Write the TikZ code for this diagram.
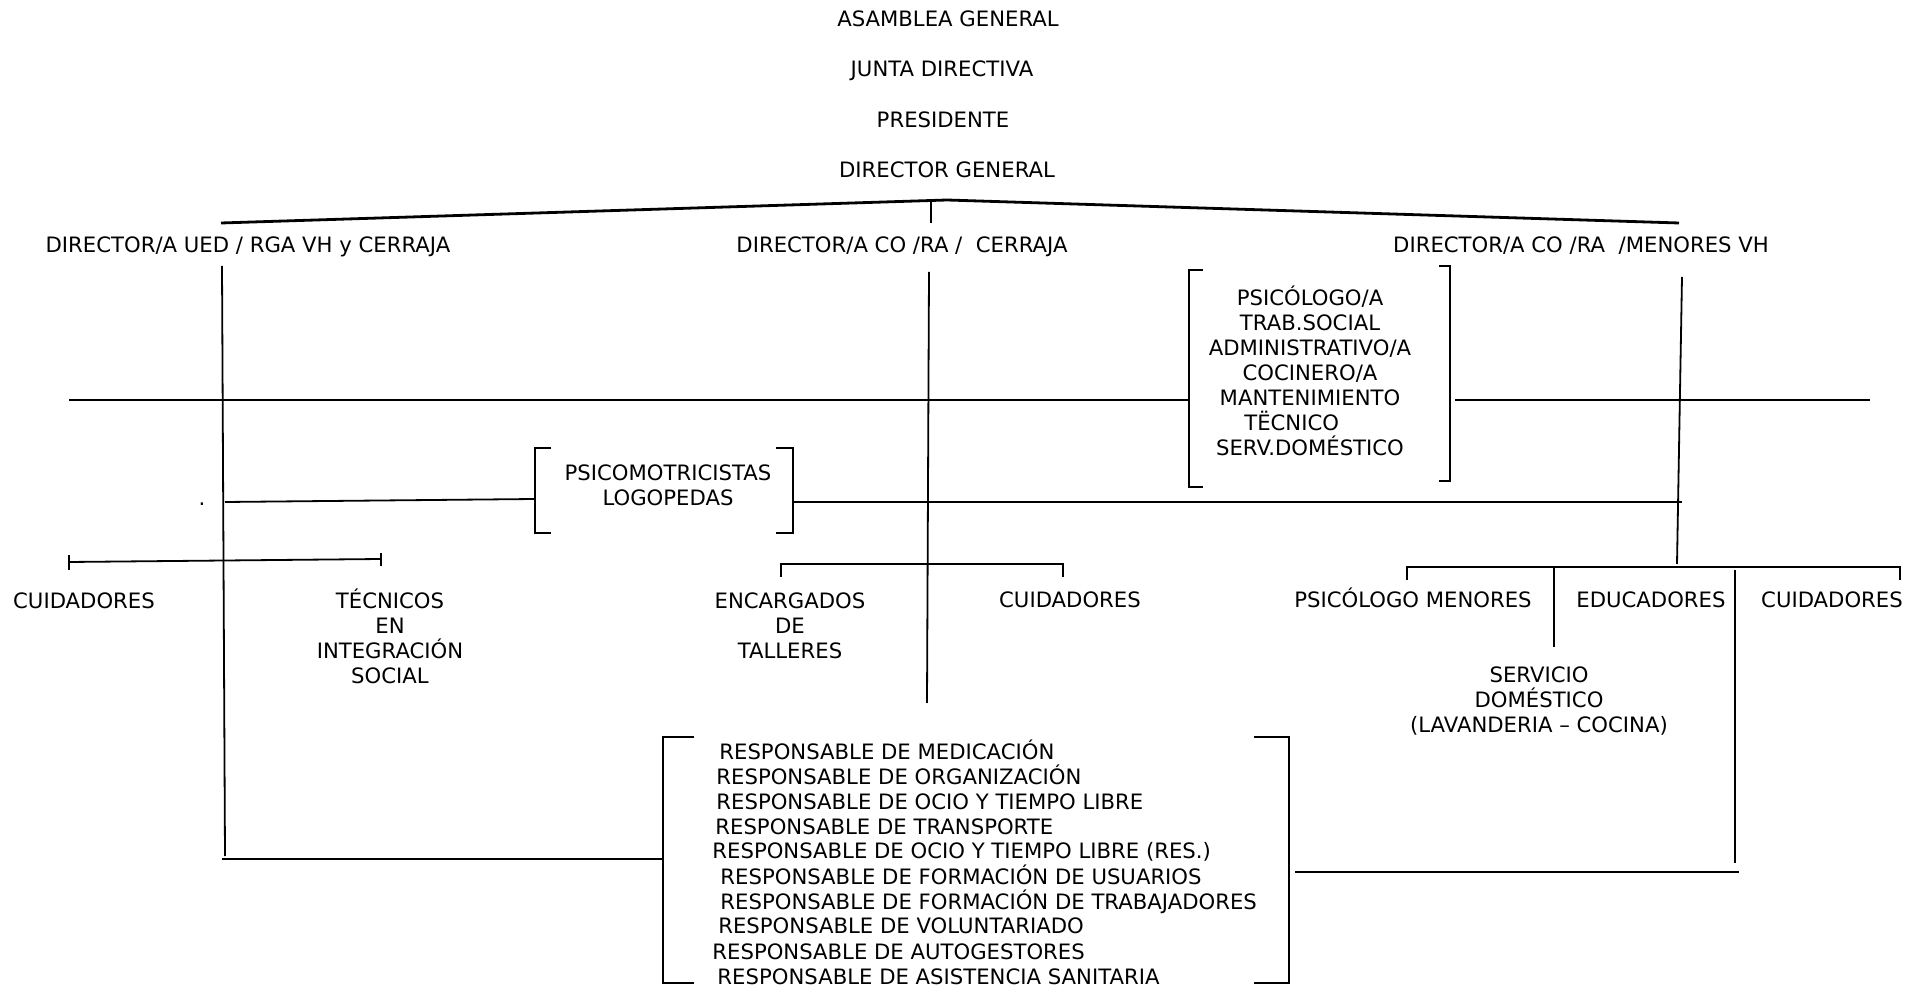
\documentclass[tikz,border=0pt]{standalone}
\usepackage{fontspec}
\setmainfont{DejaVu Sans}
\begin{document}
\begin{tikzpicture}[x=0.5pt, y=-0.5pt, font=\fontsize{10.6}{12.5}\selectfont,
  lbl/.style={anchor=base, inner sep=0pt, align=center},
  ln/.style={line width=0.9pt},
  top/.style={line width=1.4pt}]
  \useasboundingbox (0,0) rectangle (1924,988);
  % titles
  \node[lbl] (ag) at (948,27) {ASAMBLEA GENERAL};
  \node[lbl] (jd) at (942,77) {JUNTA DIRECTIVA};
  \node[lbl] (pres) at (943,128) {PRESIDENTE};
  \node[lbl] (dg) at (947,178) {DIRECTOR GENERAL};
  \node[lbl] (dUED) at (248,253) {DIRECTOR/A UED / RGA VH y CERRAJA};
  \node[lbl] (dCO) at (902,253) {DIRECTOR/A CO /RA /\ \ CERRAJA};
  \node[lbl] (dMEN) at (1581,253) {DIRECTOR/A CO /RA \ /MENORES VH};
  % boxes (base = last line)
  \node[lbl] (staff) at (1310,456) {PSICÓLOGO/A\\TRAB.SOCIAL\\ADMINISTRATIVO/A\\COCINERO/A\\MANTENIMIENTO\\TËCNICO\hphantom{MM}\\SERV.DOMÉSTICO};
  \node[lbl] (psico) at (668,506) {PSICOMOTRICISTAS\\LOGOPEDAS};
  \node[lbl] (dot) at (202,506) {.};
  \node[lbl] (cuidL) at (84,609) {CUIDADORES};
  \node[lbl] (tecn) at (390,684) {TÉCNICOS\\EN\\INTEGRACIÓN\\SOCIAL};
  \node[lbl] (encarg) at (790,659) {ENCARGADOS\\DE\\TALLERES};
  \node[lbl] (cuidM) at (1070,608) {CUIDADORES};
  \node[lbl] (psimen) at (1413,608) {PSICÓLOGO MENORES};
  \node[lbl] (educ) at (1651,608) {EDUCADORES};
  \node[lbl] (cuidR) at (1832,608) {CUIDADORES};
  \node[lbl] (servdom) at (1539,733) {SERVICIO\\DOMÉSTICO\\(LAVANDERIA – COCINA)};
  \node[lbl, anchor=base west, align=left] (resp) at (712,984) {\hspace*{.33em}RESPONSABLE DE MEDICACIÓN\\\hspace*{.19em}RESPONSABLE DE ORGANIZACIÓN\\\hspace*{.19em}RESPONSABLE DE OCIO Y TIEMPO LIBRE\\\hspace*{.14em}RESPONSABLE DE TRANSPORTE\\RESPONSABLE DE OCIO Y TIEMPO LIBRE (RES.)\\\hspace*{.38em}RESPONSABLE DE FORMACIÓN DE USUARIOS\\\hspace*{.38em}RESPONSABLE DE FORMACIÓN DE TRABAJADORES\\\hspace*{.28em}RESPONSABLE DE VOLUNTARIADO\\RESPONSABLE DE AUTOGESTORES\\\hspace*{.24em}RESPONSABLE DE ASISTENCIA SANITARIA};
  % junction points
  \coordinate (apex) at (947,200);
  \coordinate (aL) at (221,223);
  \coordinate (aR) at (1679,223);
  \coordinate (aMt) at (931,200);
  \coordinate (aMb) at (931,223);
  \coordinate (vLt) at (222,266);
  \coordinate (vLb) at (225,856);
  \coordinate (vMt) at (929,272);
  \coordinate (vMb) at (927,703);
  \coordinate (vRt) at (1682,277);
  \coordinate (vRb) at (1677,564);
  \coordinate (h1a) at (69,400);
  \coordinate (h1b) at (1189,400);
  \coordinate (h1c) at (1455,400);
  \coordinate (h1d) at (1870,400);
  \coordinate (h2a) at (225,502);
  \coordinate (h2b) at (535,499);
  \coordinate (h2c) at (793,502);
  \coordinate (h2d) at (1682,502);
  \coordinate (brL1) at (69,562);
  \coordinate (brL2) at (381,559);
  \coordinate (brM1) at (781,564);
  \coordinate (brM2) at (1063,564);
  \coordinate (brR1) at (1407,567);
  \coordinate (brR2) at (1900,567);
  \coordinate (sdT) at (1554,567);
  \coordinate (sdB) at (1554,647);
  \coordinate (edT) at (1735,570);
  \coordinate (edB) at (1735,863);
  \coordinate (h3a) at (222,859);
  \coordinate (h3b) at (664,859);
  \coordinate (h4a) at (1295,872);
  \coordinate (h4b) at (1739,872);
  % connectors
  \draw[top] (aL) -- (apex) -- (aR);
  \draw[ln] (aMt) -- (aMb);
  \draw[ln] (vLt) -- (vLb);
  \draw[ln] (vMt) -- (vMb);
  \draw[ln] (vRt) -- (vRb);
  \draw[ln] (h1a) -- (h1b);
  \draw[ln] (h1c) -- (h1d);
  \draw[ln] (h2a) -- (h2b);
  \draw[ln] (h2c) -- (h2d);
  \draw[ln] (brL1) -- (brL2);
  \draw[ln] ([yshift=3.5]brL1) -- ([yshift=-4]brL1);
  \draw[ln] ([yshift=3]brL2) -- ([yshift=-3.5]brL2);
  \draw[ln] ([yshift=-6.5]brM1) |- (brM2) -- ([yshift=-6.5]brM2);
  \draw[ln] ([yshift=-6.5]brR1) |- (brR2) -- ([yshift=-6.5]brR2);
  \draw[ln] (sdT) -- (sdB);
  \draw[ln] (edT) -- (edB);
  \draw[ln] (h3a) -- (h3b);
  \draw[ln] (h4a) -- (h4b);
  % brackets
  \draw[ln] (1203,270) -- (1189,270) -- (1189,487) -- (1203,487);
  \draw[ln] (1439,266) -- (1450,266) -- (1450,481) -- (1439,481);
  \draw[ln] (551,448) -- (535,448) -- (535,533) -- (551,533);
  \draw[ln] (776,448) -- (793,448) -- (793,533) -- (776,533);
  \draw[ln] (694,737) -- (663,737) -- (663,983) -- (694,983);
  \draw[ln] (1254,737) -- (1289,737) -- (1289,983) -- (1254,983);
\end{tikzpicture}
\end{document}
